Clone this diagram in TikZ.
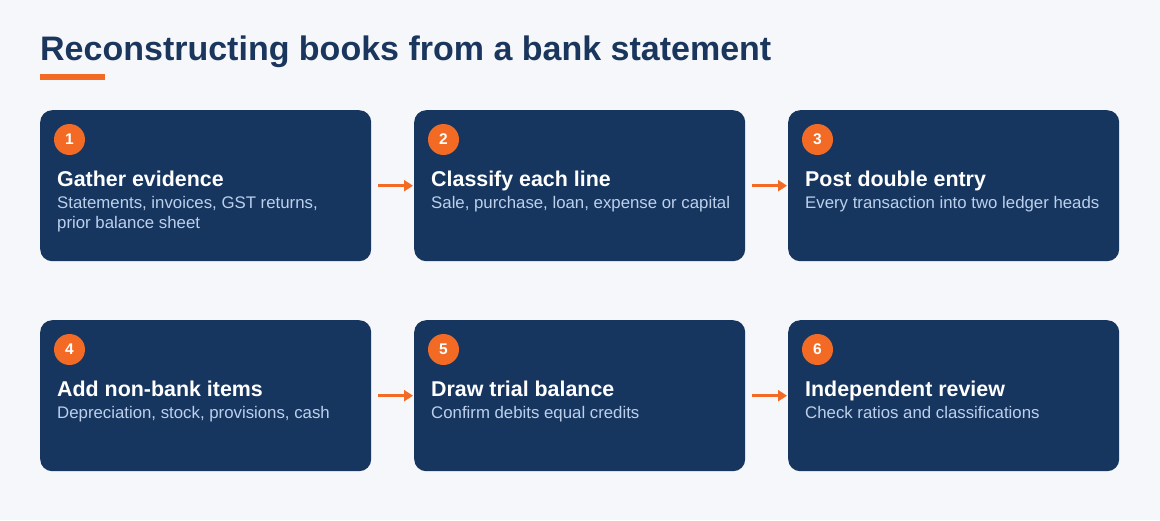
\documentclass[tikz,border=0pt]{standalone}
\usepackage{fontspec}
\setmainfont{Liberation Sans}
\usetikzlibrary{arrows.meta}
\definecolor{pagebg}{HTML}{F5F7FA}
\definecolor{navy}{HTML}{17365F}
\definecolor{titleblue}{HTML}{1B365D}
\definecolor{accent}{HTML}{F26A24}
\definecolor{softblue}{HTML}{BCD0EC}
\begin{document}
\begin{tikzpicture}[x=1pt,y=-1pt,
  card/.style={rectangle, fill=navy, rounded corners=12pt, minimum width=331pt, minimum height=151pt, inner sep=0pt},
  badge/.style={circle, fill=accent, minimum size=31pt, inner sep=0pt, text=white, font=\fontsize{15.5}{18}\selectfont\bfseries},
  headtext/.style={inner sep=0pt, text=white, font=\fontsize{21.4}{24}\selectfont\bfseries},
  desctext/.style={inner sep=0pt, text=softblue, align=left, font=\fontsize{16.8}{20}\selectfont},
  flow/.style={draw=accent, line width=2.6pt, -{Triangle[length=9pt,width=11pt]}, shorten <=7pt, shorten >=1pt}]
\useasboundingbox[fill=pagebg] (0,0) rectangle (1160,520);
\node[anchor=base west, inner sep=0pt, text=titleblue, font=\fontsize{34}{40}\selectfont\bfseries] (title) at (40,60) {Reconstructing books from a bank statement};
\fill[accent] (40,74) rectangle (105,80);
% six step cards (\dy = baseline of the last description line)
\foreach \n/\x/\y/\dy/\head/\desc in {
  1/40/110/118/Gather evidence/{Statements, invoices, GST returns,\\prior balance sheet},
  2/414/110/98/Classify each line/{Sale, purchase, loan, expense or capital},
  3/788/110/98/Post double entry/{Every transaction into two ledger heads},
  4/40/320/98/Add non-bank items/{Depreciation, stock, provisions, cash},
  5/414/320/98/Draw trial balance/{Confirm debits equal credits},
  6/788/320/98/Independent review/{Check ratios and classifications}} {
  \node[card, anchor=north west] (card\n) at (\x,\y) {};
  \node[badge] (num\n) at ([xshift=29.5pt, yshift=-29.5pt]card\n.north west) {\n};
  \node[headtext, anchor=base west] (head\n) at ([xshift=17pt, yshift=-76pt]card\n.north west) {\head};
  \node[desctext, anchor=base west] (desc\n) at ([xshift=17pt, yshift=-\dy pt]card\n.north west) {\desc};
}
\foreach \a/\b in {1/2,2/3,4/5,5/6}
  \draw[flow] (card\a.east) -- (card\b.west);
\end{tikzpicture}
\end{document}
